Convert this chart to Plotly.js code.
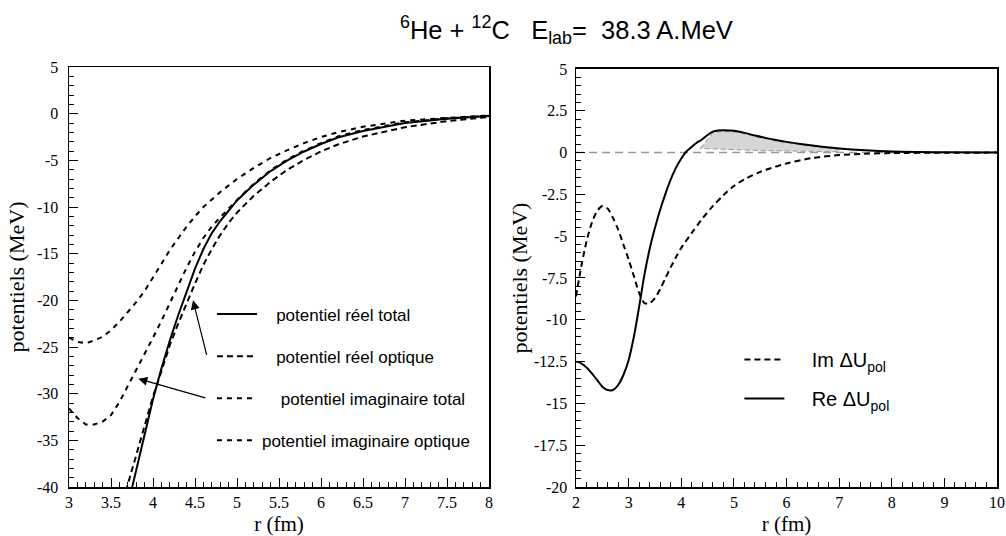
<!DOCTYPE html>
<html>
<head>
<meta charset="utf-8">
<script src="https://cdn.plot.ly/plotly-3.0.1.min.js"></script>
<style>html,body{margin:0;padding:0;background:#fff;} #chart{width:1006px;height:536px;}</style>
</head>
<body>
<div id="chart"></div>
<script>
// ---------- Left panel data (r in fm, potentials in MeV) ----------
const rReelTotal = [3.7,3.8,3.9,4.0,4.1,4.2,4.3,4.4,4.5,4.6,4.7,4.8,4.9,5.0,5.2,5.4,5.6,5.8,6.0,6.2,6.5,7.0,7.5,8.0];
const reelTotal  = [-42.0,-38.1,-34.4,-30.6,-27.3,-24.3,-21.6,-19.0,-16.6,-14.5,-12.8,-11.5,-10.35,-9.3,-7.6,-6.15,-5.0,-4.05,-3.25,-2.55,-1.85,-1.0,-0.55,-0.25];

const rReelOptique = [3.65,3.7,3.8,3.9,4.0,4.1,4.2,4.3,4.4,4.5,4.6,4.7,4.8,4.9,5.0,5.2,5.4,5.6,5.8,6.0,6.2,6.5,7.0,7.5,8.0];
const reelOptique  = [-41.5,-39.7,-36.6,-33.3,-30.3,-27.6,-24.8,-22.5,-20.3,-18.2,-16.2,-14.5,-13.0,-11.7,-10.6,-8.8,-7.3,-6.0,-4.95,-4.05,-3.3,-2.45,-1.45,-0.8,-0.35];

const rImagTotal = [3.0,3.1,3.2,3.3,3.4,3.5,3.6,3.7,3.8,3.9,4.0,4.1,4.2,4.3,4.4,4.5,4.6,4.7,4.8,5.0,5.2,5.4,5.6,5.8,6.0,6.2,6.5,7.0,7.5,8.0];
const imagTotal  = [-31.6,-32.6,-33.3,-33.3,-33.0,-32.3,-30.9,-29.2,-27.5,-25.8,-24.0,-22.2,-20.3,-18.4,-16.5,-14.8,-13.3,-12.1,-11.1,-9.25,-7.5,-6.05,-4.9,-3.95,-3.15,-2.45,-1.75,-0.92,-0.5,-0.22];

const rImagOptique = [3.0,3.1,3.2,3.3,3.4,3.5,3.6,3.7,3.8,3.9,4.0,4.1,4.2,4.3,4.4,4.5,4.6,4.8,5.0,5.2,5.4,5.6,5.8,6.0,6.2,6.5,7.0,7.5,8.0];
const imagOptique  = [-24.0,-24.45,-24.6,-24.3,-23.9,-23.2,-22.3,-21.3,-20.2,-19.0,-17.6,-16.1,-14.6,-13.3,-12.1,-11.0,-10.0,-8.4,-7.0,-5.8,-4.75,-3.9,-3.15,-2.5,-2.0,-1.4,-0.75,-0.45,-0.2];

// ---------- Right panel data ----------
const rIm = [2.0,2.1,2.2,2.3,2.4,2.5,2.6,2.7,2.8,2.9,3.0,3.1,3.2,3.3,3.4,3.5,3.6,3.7,3.8,3.9,4.0,4.2,4.4,4.6,4.8,5.0,5.2,5.5,6.0,6.5,7.0,7.5,8.0,9.0,10.0];
const imDU = [-8.6,-6.8,-5.3,-4.2,-3.5,-3.2,-3.35,-3.9,-4.6,-5.5,-6.4,-7.4,-8.4,-9.0,-9.0,-8.7,-8.15,-7.5,-6.85,-6.25,-5.7,-4.8,-3.95,-3.2,-2.55,-2.0,-1.6,-1.15,-0.65,-0.32,-0.15,-0.07,-0.03,-0.01,0.0];

const rRe = [2.0,2.1,2.2,2.3,2.4,2.5,2.6,2.7,2.8,2.9,3.0,3.1,3.2,3.3,3.4,3.5,3.6,3.7,3.8,3.9,4.0,4.1,4.2,4.3,4.4,4.5,4.6,4.7,4.8,5.0,5.2,5.4,5.6,5.8,6.0,6.3,6.6,7.0,7.5,8.0,8.5,9.0,10.0];
const reDU = [-12.5,-12.6,-12.85,-13.2,-13.6,-14.0,-14.2,-14.2,-13.9,-13.3,-12.4,-11.0,-9.2,-7.3,-5.75,-4.5,-3.4,-2.45,-1.6,-0.9,-0.35,0.08,0.35,0.6,0.8,1.05,1.25,1.32,1.33,1.3,1.18,1.02,0.88,0.75,0.64,0.5,0.38,0.25,0.14,0.07,0.04,0.02,0.0];

// shaded region (polygon) and zero reference line
const shadeX = [4.36,4.6,4.8,5.0,5.2,5.4,5.6,5.8,6.0,6.3,6.6,7.0,7.0,5.5,4.36];
const shadeY = [0.25,1.19,1.27,1.24,1.12,0.96,0.82,0.69,0.58,0.44,0.32,0.19,0.05,0.12,0.25];
const zeroX = [2,10];
const zeroY = [0,0];

// ---------- Tick labels ----------
const leftYTickVals = [5,0,-5,-10,-15,-20,-25,-30,-35,-40];
const leftYTickText = ['5','0','-5','-10','-15','-20','-25','-30','-35','-40'];
const leftXTickVals = [3,3.5,4,4.5,5,5.5,6,6.5,7,7.5,8];
const leftXTickText = ['3','3.5','4','4.5','5','5.5','6','6.5','7','7.5','8'];
const rightYTickVals = [5,2.5,0,-2.5,-5,-7.5,-10,-12.5,-15,-17.5,-20];
const rightYTickText = ['5','2.5','0','-2.5','-5','-7.5','-10','-12.5','-15','-17.5','-20'];
const rightXTickVals = [2,3,4,5,6,7,8,9,10];
const rightXTickText = ['2','3','4','5','6','7','8','9','10'];

const legendNames = [
  '&nbsp;&nbsp;&nbsp;potentiel réel total',
  '&nbsp;&nbsp;&nbsp;potentiel réel optique',
  '&nbsp;&nbsp;&nbsp;&nbsp;potentiel imaginaire total',
  'potentiel imaginaire optique'
];
const legendNamesRight = [
  '&nbsp;&nbsp;&nbsp;&nbsp;Im ΔU<sub>pol</sub>',
  '&nbsp;&nbsp;&nbsp;&nbsp;Re ΔU<sub>pol</sub>'
];

const serif = '"Liberation Serif", "Times New Roman", serif';
const sans = '"Liberation Sans", Arial, sans-serif';

const traces = [
  {x: rReelTotal, y: reelTotal, xaxis:'x', yaxis:'y', mode:'lines', name: legendNames[0],
   line:{color:'#000', width:2}, legend:'legend', legendgroup:'a'},
  {x: rReelOptique, y: reelOptique, xaxis:'x', yaxis:'y', mode:'lines', name: legendNames[1],
   line:{color:'#000', width:2, dash:'6px,4px'}, legend:'legend', legendgroup:'b'},
  {x: rImagTotal, y: imagTotal, xaxis:'x', yaxis:'y', mode:'lines', name: legendNames[2],
   line:{color:'#000', width:2, dash:'5px,5px'}, legend:'legend', legendgroup:'c'},
  {x: rImagOptique, y: imagOptique, xaxis:'x', yaxis:'y', mode:'lines', name: legendNames[3],
   line:{color:'#000', width:2, dash:'5px,5px'}, legend:'legend', legendgroup:'d'},
  {x: shadeX, y: shadeY, xaxis:'x2', yaxis:'y2', mode:'lines', fill:'toself', fillcolor:'#d6d6d6',
   line:{color:'#999', width:1, dash:'5px,3px'}, showlegend:false, hoverinfo:'skip'},
  {x: zeroX, y: zeroY, xaxis:'x2', yaxis:'y2', mode:'lines',
   line:{color:'#999', width:1.5, dash:'8px,5px'}, showlegend:false, hoverinfo:'skip'},
  {x: rIm, y: imDU, xaxis:'x2', yaxis:'y2', mode:'lines', name: legendNamesRight[0],
   line:{color:'#000', width:2, dash:'6px,4px', shape:'spline', smoothing:0.8}, legend:'legend2', legendgroup:'e'},
  {x: rRe, y: reDU, xaxis:'x2', yaxis:'y2', mode:'lines', name: legendNamesRight[1],
   line:{color:'#000', width:2, shape:'spline', smoothing:0.8}, legend:'legend2', legendgroup:'f'}
];

function axisBase() {
  return {
    showgrid:false, zeroline:false, showline:true, linecolor:'#000', linewidth:1.5, mirror:true,
    ticks:'inside', ticklen:9, tickwidth:1, tickcolor:'#000',
    tickmode:'array', tickfont:{family:serif, size:16, color:'#000'}, fixedrange:true
  };
}

const layout = {
  width:1006, height:536,
  margin:{l:0, r:0, t:0, b:0},
  paper_bgcolor:'#fff', plot_bgcolor:'#fff',
  showlegend:true,
  xaxis: Object.assign(axisBase(), {
    domain:[0.0686, 0.4861], range:[3,8], anchor:'y',
    tickvals:leftXTickVals, ticktext:leftXTickText,
    minor:{ticks:'inside', ticklen:5, tickcolor:'#000', dtick:0.1, tick0:3},
    title:{text:'r (fm)', font:{family:serif, size:21, color:'#000'}, standoff:10}
  }),
  yaxis: Object.assign(axisBase(), {
    domain:[0.0914, 0.875], range:[-40,5], anchor:'x',
    tickvals:leftYTickVals, ticktext:leftYTickText, ticklabelstandoff:6,
    minor:{ticks:'inside', ticklen:5, tickcolor:'#000', dtick:1, tick0:0},
    title:{text:'potentiels (MeV)', font:{family:serif, size:22, color:'#000'}, standoff:6}
  }),
  xaxis2: Object.assign(axisBase(), {
    domain:[0.5726, 0.9911], range:[2,10], anchor:'y2',
    tickvals:rightXTickVals, ticktext:rightXTickText,
    minor:{ticks:'inside', ticklen:5, tickcolor:'#000', dtick:0.2, tick0:2},
    title:{text:'r (fm)', font:{family:serif, size:21, color:'#000'}, standoff:10}
  }),
  yaxis2: Object.assign(axisBase(), {
    domain:[0.0914, 0.8713], range:[-20,5], anchor:'x2',
    tickvals:rightYTickVals, ticktext:rightYTickText, ticklabelstandoff:4,
    minor:{ticks:'inside', ticklen:5, tickcolor:'#000', dtick:0.5, tick0:0},
    title:{text:'potentiels (MeV)', font:{family:serif, size:22, color:'#000'}, standoff:0}
  }),
  legend: {
    x:0.2107, y:0.2957, xanchor:'left', yanchor:'middle', xref:'paper', yref:'paper',
    bgcolor:'rgba(0,0,0,0)', borderwidth:0, traceorder:'grouped', tracegroupgap:17,
    font:{family:sans, size:17, color:'#000'}, itemwidth:40
  },
  legend2: {
    x:0.735, y:0.2929, xanchor:'left', yanchor:'middle', xref:'paper', yref:'paper',
    bgcolor:'rgba(0,0,0,0)', borderwidth:0, traceorder:'grouped', tracegroupgap:10,
    font:{family:sans, size:20, color:'#000'}, itemwidth:40
  },
  annotations: [
    {xref:'paper', yref:'paper', x:0.5636, y:0.944, xanchor:'center', yanchor:'middle', showarrow:false,
     text:'<sup>6</sup>He + <sup>12</sup>C&nbsp;&nbsp; E<sub>lab</sub>=&nbsp; 38.3 A.MeV',
     font:{family:sans, size:25.5, color:'#000'}},
    {xref:'x', yref:'y', axref:'x', ayref:'y', x:4.476, y:-20.0, ax:4.643, ay:-26.0,
     showarrow:true, arrowhead:2, arrowsize:1.5, arrowwidth:1.2, arrowcolor:'#000', text:''},
    {xref:'x', yref:'y', axref:'x', ayref:'y', x:3.825, y:-28.4, ax:4.64, ay:-30.5,
     showarrow:true, arrowhead:2, arrowsize:1.5, arrowwidth:1.2, arrowcolor:'#000', text:''}
  ]
};

Plotly.newPlot('chart', traces, layout, {displayModeBar:false, staticPlot:true});
</script>
</body>
</html>
